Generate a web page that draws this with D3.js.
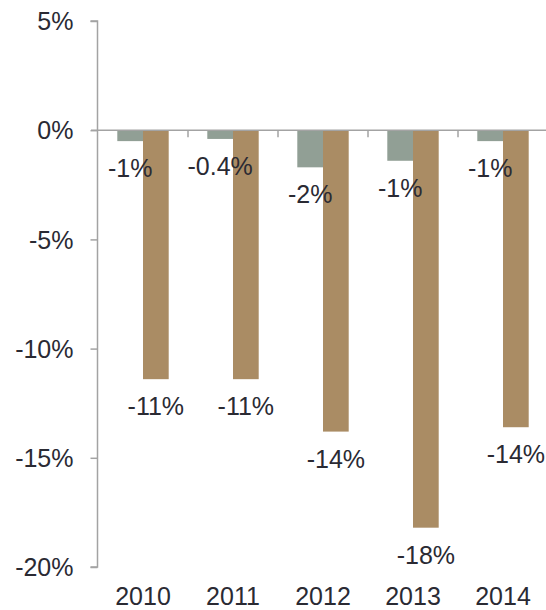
<!DOCTYPE html>
<html>
<head>
<meta charset="utf-8">
<script src="https://cdn.jsdelivr.net/npm/d3@7"></script>
<style>
  html, body { margin: 0; padding: 0; background: #fff; }
  svg { display: block; }
  text { font-family: "Liberation Sans", Arial, sans-serif; fill: #2a2a33; }
</style>
</head>
<body>
<div id="chart"></div>
<script>
// Annual change (%) by year, two series
const years = ["2010", "2011", "2012", "2013", "2014"];
const seriesA = [-0.5, -0.4, -1.7, -1.4, -0.5];
const seriesB = [-11.4, -11.4, -13.8, -18.2, -13.6];
const yTicks = [5, 0, -5, -10, -15, -20];
const colors = ["#919f95", "#aa8c64"];

const width = 546, height = 610;
const plot = { left: 98, right: 548, top: 21, bottom: 567 };

const svg = d3.select("#chart").append("svg")
  .attr("width", width).attr("height", height);

const y = d3.scaleLinear().domain([5, -20]).range([plot.top, plot.bottom]);
const x0 = d3.scaleBand().domain(years).range([plot.left, plot.right]).paddingInner(0).paddingOuter(0);
const groupW = 51.4;
const x1 = d3.scaleBand().domain([0, 1]).range([0, groupW]);

// Labels: one decimal for small magnitudes, whole percent otherwise
const fmt = v => (Math.abs(v) < 0.45 ? v.toFixed(1) : (Math.sign(v) * Math.round(Math.abs(v))).toFixed(0)) + "%";

const data = years.map((yr, i) => ({ year: yr, vals: [seriesA[i], seriesB[i]] }));

// Bars
const groups = svg.append("g").selectAll("g").data(data).join("g")
  .attr("transform", d => `translate(${x0(d.year) + (x0.bandwidth() - groupW) / 2},0)`);

groups.selectAll("rect").data(d => d.vals.map((v, k) => ({ v, k }))).join("rect")
  .attr("x", d => x1(d.k))
  .attr("width", x1.bandwidth())
  .attr("y", y(0))
  .attr("height", d => y(d.v) - y(0))
  .attr("fill", d => colors[d.k]);

groups.selectAll("text").data(d => d.vals.map((v, k) => ({ v, k }))).join("text")
  .attr("x", d => x1(d.k) + x1.bandwidth() / 2)
  .attr("y", d => y(d.v) + 36)
  .attr("text-anchor", "middle")
  .style("font-size", "25px")
  .text(d => fmt(d.v));

// Y axis
const yAxis = d3.axisLeft(y).tickValues(yTicks).tickSize(7).tickPadding(17)
  .tickFormat(d => d + "%");
const gy = svg.append("g").attr("transform", `translate(${plot.left - 0.5},0)`).call(yAxis);
gy.select(".domain").attr("stroke", "#a3a3a3").attr("stroke-width", 1.5).attr("d", `M-7,${plot.top}H0V${plot.bottom}H-7`);
gy.selectAll(".tick line").attr("stroke", "#a3a3a3").attr("stroke-width", 1.5);
gy.selectAll(".tick text").style("font-size", "25px").attr("fill", "#2a2a33")
  .attr("font-family", null).attr("dy", "0.35em");

// Zero baseline with category ticks
const gx = svg.append("g").attr("transform", `translate(0,${y(0)})`)
  .call(d3.axisBottom(x0).tickSize(0).tickFormat(""));
gx.select(".domain").attr("stroke", "#a3a3a3").attr("stroke-width", 1.5)
  .attr("d", `M${plot.left - 7},0H${width}`);
svg.append("g").selectAll("line").data(years.slice(1)).join("line")
  .attr("x1", d => x0(d)).attr("x2", d => x0(d))
  .attr("y1", y(0)).attr("y2", y(0) + 7)
  .attr("stroke", "#a3a3a3").attr("stroke-width", 1.5);

// Year labels along the bottom
svg.append("g").selectAll("text").data(years).join("text")
  .attr("x", d => x0(d) + x0.bandwidth() / 2)
  .attr("y", 605)
  .attr("text-anchor", "middle")
  .style("font-size", "25px")
  .text(d => d);
</script>
</body>
</html>
